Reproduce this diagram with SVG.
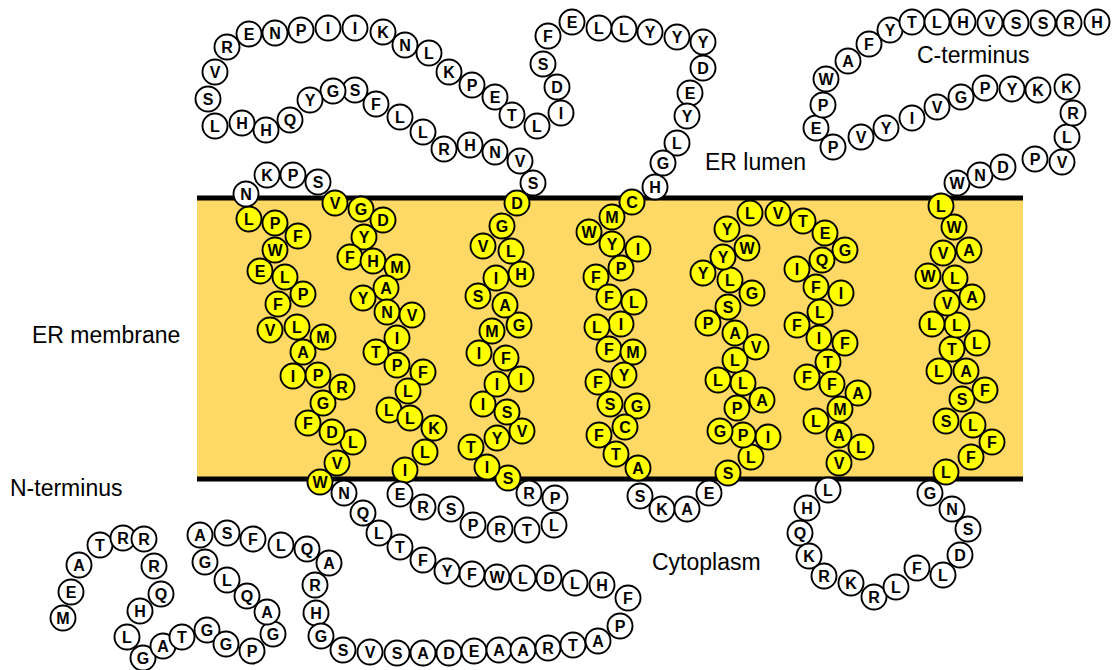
<svg xmlns="http://www.w3.org/2000/svg" width="1113" height="670" viewBox="0 0 1113 670">
<style>
circle{stroke:#000;stroke-width:1.9}
.w circle{fill:#fff}
.y circle{fill:#ffff00}
g.w text,g.y text{font-family:"Liberation Sans",Arial,sans-serif;font-weight:bold;font-size:16px;text-anchor:middle;fill:#000}
.lbl{font-family:"Liberation Sans",Arial,sans-serif;font-size:23px;fill:#000}
</style>
<rect width="1113" height="670" fill="#fff"/>
<g id="membrane">
<rect x="197" y="198" width="826" height="281" fill="#FFD966"/>
<line x1="197" y1="198" x2="1023" y2="198" stroke="#000" stroke-width="5"/>
<line x1="197" y1="479" x2="1023" y2="479" stroke="#000" stroke-width="5"/>
</g>
<g id="labels">
<text class="lbl" x="705" y="170">ER lumen</text>
<text class="lbl" x="32" y="343">ER membrane</text>
<text class="lbl" x="10" y="496">N-terminus</text>
<text class="lbl" x="652" y="570">Cytoplasm</text>
<text class="lbl" x="917" y="63">C-terminus</text>
</g>
<g id="connectors"/>
<g id="residues">
<g id="r1" class="w" transform="translate(63,618)"><circle r="12.5"/><text y="5.8">M</text></g>
<g id="r2" class="w" transform="translate(71,592)"><circle r="12.5"/><text y="5.8">E</text></g>
<g id="r3" class="w" transform="translate(79,565)"><circle r="12.5"/><text y="5.8">A</text></g>
<g id="r4" class="w" transform="translate(100,545)"><circle r="12.5"/><text y="5.8">T</text></g>
<g id="r5" class="w" transform="translate(123,538)"><circle r="12.5"/><text y="5.8">R</text></g>
<g id="r6" class="w" transform="translate(144,539)"><circle r="12.5"/><text y="5.8">R</text></g>
<g id="r7" class="w" transform="translate(154,566)"><circle r="12.5"/><text y="5.8">R</text></g>
<g id="r8" class="w" transform="translate(161,594)"><circle r="12.5"/><text y="5.8">Q</text></g>
<g id="r9" class="w" transform="translate(140,611)"><circle r="12.5"/><text y="5.8">H</text></g>
<g id="r10" class="w" transform="translate(127,637)"><circle r="12.5"/><text y="5.8">L</text></g>
<g id="r11" class="w" transform="translate(143,658)"><circle r="12.5"/><text y="5.8">G</text></g>
<g id="r12" class="w" transform="translate(163,646)"><circle r="12.5"/><text y="5.8">A</text></g>
<g id="r13" class="w" transform="translate(182,637)"><circle r="12.5"/><text y="5.8">T</text></g>
<g id="r14" class="w" transform="translate(207,630)"><circle r="12.5"/><text y="5.8">G</text></g>
<g id="r15" class="w" transform="translate(226,644)"><circle r="12.5"/><text y="5.8">G</text></g>
<g id="r16" class="w" transform="translate(252,651)"><circle r="12.5"/><text y="5.8">P</text></g>
<g id="r17" class="w" transform="translate(273,634)"><circle r="12.5"/><text y="5.8">G</text></g>
<g id="r18" class="w" transform="translate(267,612)"><circle r="12.5"/><text y="5.8">A</text></g>
<g id="r19" class="w" transform="translate(247,596)"><circle r="12.5"/><text y="5.8">Q</text></g>
<g id="r20" class="w" transform="translate(227,580)"><circle r="12.5"/><text y="5.8">L</text></g>
<g id="r21" class="w" transform="translate(205,562)"><circle r="12.5"/><text y="5.8">G</text></g>
<g id="r22" class="w" transform="translate(200,535)"><circle r="12.5"/><text y="5.8">A</text></g>
<g id="r23" class="w" transform="translate(227,533)"><circle r="12.5"/><text y="5.8">S</text></g>
<g id="r24" class="w" transform="translate(253,539)"><circle r="12.5"/><text y="5.8">F</text></g>
<g id="r25" class="w" transform="translate(281,545)"><circle r="12.5"/><text y="5.8">L</text></g>
<g id="r26" class="w" transform="translate(307,549)"><circle r="12.5"/><text y="5.8">Q</text></g>
<g id="r27" class="w" transform="translate(329,563)"><circle r="12.5"/><text y="5.8">A</text></g>
<g id="r28" class="w" transform="translate(315,585)"><circle r="12.5"/><text y="5.8">R</text></g>
<g id="r29" class="w" transform="translate(316,613)"><circle r="12.5"/><text y="5.8">H</text></g>
<g id="r30" class="w" transform="translate(321,636)"><circle r="12.5"/><text y="5.8">G</text></g>
<g id="r31" class="w" transform="translate(343,650)"><circle r="12.5"/><text y="5.8">S</text></g>
<g id="r32" class="w" transform="translate(370,652)"><circle r="12.5"/><text y="5.8">V</text></g>
<g id="r33" class="w" transform="translate(397,653)"><circle r="12.5"/><text y="5.8">S</text></g>
<g id="r34" class="w" transform="translate(423,653)"><circle r="12.5"/><text y="5.8">A</text></g>
<g id="r35" class="w" transform="translate(449,653)"><circle r="12.5"/><text y="5.8">D</text></g>
<g id="r36" class="w" transform="translate(474,651)"><circle r="12.5"/><text y="5.8">E</text></g>
<g id="r37" class="w" transform="translate(499,650)"><circle r="12.5"/><text y="5.8">A</text></g>
<g id="r38" class="w" transform="translate(523,650)"><circle r="12.5"/><text y="5.8">A</text></g>
<g id="r39" class="w" transform="translate(548,648)"><circle r="12.5"/><text y="5.8">R</text></g>
<g id="r40" class="w" transform="translate(573,645)"><circle r="12.5"/><text y="5.8">T</text></g>
<g id="r41" class="w" transform="translate(598,641)"><circle r="12.5"/><text y="5.8">A</text></g>
<g id="r42" class="w" transform="translate(620,626)"><circle r="12.5"/><text y="5.8">P</text></g>
<g id="r43" class="w" transform="translate(628,598)"><circle r="12.5"/><text y="5.8">F</text></g>
<g id="r44" class="w" transform="translate(602,585)"><circle r="12.5"/><text y="5.8">H</text></g>
<g id="r45" class="w" transform="translate(575,583)"><circle r="12.5"/><text y="5.8">L</text></g>
<g id="r46" class="w" transform="translate(549,578)"><circle r="12.5"/><text y="5.8">D</text></g>
<g id="r47" class="w" transform="translate(523,578)"><circle r="12.5"/><text y="5.8">L</text></g>
<g id="r48" class="w" transform="translate(497,577)"><circle r="12.5"/><text y="5.8">W</text></g>
<g id="r49" class="w" transform="translate(472,574)"><circle r="12.5"/><text y="5.8">F</text></g>
<g id="r50" class="w" transform="translate(447,571)"><circle r="12.5"/><text y="5.8">Y</text></g>
<g id="r51" class="w" transform="translate(423,560)"><circle r="12.5"/><text y="5.8">F</text></g>
<g id="r52" class="w" transform="translate(400,547)"><circle r="12.5"/><text y="5.8">T</text></g>
<g id="r53" class="w" transform="translate(379,533)"><circle r="12.5"/><text y="5.8">L</text></g>
<g id="r54" class="w" transform="translate(363,513)"><circle r="12.5"/><text y="5.8">Q</text></g>
<g id="r55" class="w" transform="translate(344,493)"><circle r="12.5"/><text y="5.8">N</text></g>
<g id="r56" class="y" transform="translate(320,482)"><circle r="12.5"/><text y="5.8">W</text></g>
<g id="r57" class="y" transform="translate(337,463)"><circle r="12.5"/><text y="5.8">V</text></g>
<g id="r58" class="y" transform="translate(353,442)"><circle r="12.5"/><text y="5.8">L</text></g>
<g id="r59" class="y" transform="translate(332,432)"><circle r="12.5"/><text y="5.8">D</text></g>
<g id="r60" class="y" transform="translate(308,423)"><circle r="12.5"/><text y="5.8">F</text></g>
<g id="r61" class="y" transform="translate(323,403)"><circle r="12.5"/><text y="5.8">G</text></g>
<g id="r62" class="y" transform="translate(342,387)"><circle r="12.5"/><text y="5.8">R</text></g>
<g id="r63" class="y" transform="translate(318,375)"><circle r="12.5"/><text y="5.8">P</text></g>
<g id="r64" class="y" transform="translate(293,376)"><circle r="12.5"/><text y="5.8">I</text></g>
<g id="r65" class="y" transform="translate(303,352)"><circle r="12.5"/><text y="5.8">A</text></g>
<g id="r66" class="y" transform="translate(323,337)"><circle r="12.5"/><text y="5.8">M</text></g>
<g id="r67" class="y" transform="translate(297,327)"><circle r="12.5"/><text y="5.8">L</text></g>
<g id="r68" class="y" transform="translate(270,330)"><circle r="12.5"/><text y="5.8">V</text></g>
<g id="r69" class="y" transform="translate(278,304)"><circle r="12.5"/><text y="5.8">F</text></g>
<g id="r70" class="y" transform="translate(303,294)"><circle r="12.5"/><text y="5.8">P</text></g>
<g id="r71" class="y" transform="translate(285,277)"><circle r="12.5"/><text y="5.8">L</text></g>
<g id="r72" class="y" transform="translate(260,271)"><circle r="12.5"/><text y="5.8">E</text></g>
<g id="r73" class="y" transform="translate(275,250)"><circle r="12.5"/><text y="5.8">W</text></g>
<g id="r74" class="y" transform="translate(298,236)"><circle r="12.5"/><text y="5.8">F</text></g>
<g id="r75" class="y" transform="translate(275,223)"><circle r="12.5"/><text y="5.8">P</text></g>
<g id="r76" class="y" transform="translate(249,219)"><circle r="12.5"/><text y="5.8">L</text></g>
<g id="r77" class="w" transform="translate(246,194)"><circle r="12.5"/><text y="5.8">N</text></g>
<g id="r78" class="w" transform="translate(267,175)"><circle r="12.5"/><text y="5.8">K</text></g>
<g id="r79" class="w" transform="translate(293,175)"><circle r="12.5"/><text y="5.8">P</text></g>
<g id="r80" class="w" transform="translate(318,182)"><circle r="12.5"/><text y="5.8">S</text></g>
<g id="r81" class="y" transform="translate(335,203)"><circle r="12.5"/><text y="5.8">V</text></g>
<g id="r82" class="y" transform="translate(361,209)"><circle r="12.5"/><text y="5.8">G</text></g>
<g id="r83" class="y" transform="translate(383,220)"><circle r="12.5"/><text y="5.8">D</text></g>
<g id="r84" class="y" transform="translate(364,237)"><circle r="12.5"/><text y="5.8">Y</text></g>
<g id="r85" class="y" transform="translate(350,257)"><circle r="12.5"/><text y="5.8">F</text></g>
<g id="r86" class="y" transform="translate(373,261)"><circle r="12.5"/><text y="5.8">H</text></g>
<g id="r87" class="y" transform="translate(397,267)"><circle r="12.5"/><text y="5.8">M</text></g>
<g id="r88" class="y" transform="translate(386,288)"><circle r="12.5"/><text y="5.8">A</text></g>
<g id="r89" class="y" transform="translate(363,298)"><circle r="12.5"/><text y="5.8">Y</text></g>
<g id="r90" class="y" transform="translate(387,312)"><circle r="12.5"/><text y="5.8">N</text></g>
<g id="r91" class="y" transform="translate(412,315)"><circle r="12.5"/><text y="5.8">V</text></g>
<g id="r92" class="y" transform="translate(397,338)"><circle r="12.5"/><text y="5.8">I</text></g>
<g id="r93" class="y" transform="translate(376,352)"><circle r="12.5"/><text y="5.8">T</text></g>
<g id="r94" class="y" transform="translate(397,365)"><circle r="12.5"/><text y="5.8">P</text></g>
<g id="r95" class="y" transform="translate(423,372)"><circle r="12.5"/><text y="5.8">F</text></g>
<g id="r96" class="y" transform="translate(408,391)"><circle r="12.5"/><text y="5.8">L</text></g>
<g id="r97" class="y" transform="translate(389,410)"><circle r="12.5"/><text y="5.8">L</text></g>
<g id="r98" class="y" transform="translate(410,418)"><circle r="12.5"/><text y="5.8">L</text></g>
<g id="r99" class="y" transform="translate(434,428)"><circle r="12.5"/><text y="5.8">K</text></g>
<g id="r100" class="y" transform="translate(425,452)"><circle r="12.5"/><text y="5.8">L</text></g>
<g id="r101" class="y" transform="translate(405,470)"><circle r="12.5"/><text y="5.8">I</text></g>
<g id="r102" class="w" transform="translate(400,494)"><circle r="12.5"/><text y="5.8">E</text></g>
<g id="r103" class="w" transform="translate(423,507)"><circle r="12.5"/><text y="5.8">R</text></g>
<g id="r104" class="w" transform="translate(451,509)"><circle r="12.5"/><text y="5.8">S</text></g>
<g id="r105" class="w" transform="translate(473,525)"><circle r="12.5"/><text y="5.8">P</text></g>
<g id="r106" class="w" transform="translate(500,529)"><circle r="12.5"/><text y="5.8">R</text></g>
<g id="r107" class="w" transform="translate(527,530)"><circle r="12.5"/><text y="5.8">T</text></g>
<g id="r108" class="w" transform="translate(554,525)"><circle r="12.5"/><text y="5.8">L</text></g>
<g id="r109" class="w" transform="translate(555,498)"><circle r="12.5"/><text y="5.8">P</text></g>
<g id="r110" class="w" transform="translate(529,493)"><circle r="12.5"/><text y="5.8">R</text></g>
<g id="r111" class="y" transform="translate(508,478)"><circle r="12.5"/><text y="5.8">S</text></g>
<g id="r112" class="y" transform="translate(487,467)"><circle r="12.5"/><text y="5.8">I</text></g>
<g id="r113" class="y" transform="translate(471,447)"><circle r="12.5"/><text y="5.8">T</text></g>
<g id="r114" class="y" transform="translate(497,438)"><circle r="12.5"/><text y="5.8">Y</text></g>
<g id="r115" class="y" transform="translate(522,431)"><circle r="12.5"/><text y="5.8">V</text></g>
<g id="r116" class="y" transform="translate(507,412)"><circle r="12.5"/><text y="5.8">S</text></g>
<g id="r117" class="y" transform="translate(483,404)"><circle r="12.5"/><text y="5.8">I</text></g>
<g id="r118" class="y" transform="translate(497,384)"><circle r="12.5"/><text y="5.8">I</text></g>
<g id="r119" class="y" transform="translate(521,379)"><circle r="12.5"/><text y="5.8">I</text></g>
<g id="r120" class="y" transform="translate(506,358)"><circle r="12.5"/><text y="5.8">F</text></g>
<g id="r121" class="y" transform="translate(479,353)"><circle r="12.5"/><text y="5.8">I</text></g>
<g id="r122" class="y" transform="translate(492,331)"><circle r="12.5"/><text y="5.8">M</text></g>
<g id="r123" class="y" transform="translate(519,325)"><circle r="12.5"/><text y="5.8">G</text></g>
<g id="r124" class="y" transform="translate(505,305)"><circle r="12.5"/><text y="5.8">A</text></g>
<g id="r125" class="y" transform="translate(478,296)"><circle r="12.5"/><text y="5.8">S</text></g>
<g id="r126" class="y" transform="translate(521,274)"><circle r="12.5"/><text y="5.8">H</text></g>
<g id="r127" class="y" transform="translate(496,278)"><circle r="12.5"/><text y="5.8">I</text></g>
<g id="r128" class="y" transform="translate(511,251)"><circle r="12.5"/><text y="5.8">L</text></g>
<g id="r129" class="y" transform="translate(483,246)"><circle r="12.5"/><text y="5.8">V</text></g>
<g id="r130" class="y" transform="translate(502,226)"><circle r="12.5"/><text y="5.8">G</text></g>
<g id="r131" class="y" transform="translate(517,203)"><circle r="12.5"/><text y="5.8">D</text></g>
<g id="r132" class="w" transform="translate(533,183)"><circle r="12.5"/><text y="5.8">S</text></g>
<g id="r133" class="w" transform="translate(520,161)"><circle r="12.5"/><text y="5.8">V</text></g>
<g id="r134" class="w" transform="translate(495,152)"><circle r="12.5"/><text y="5.8">N</text></g>
<g id="r135" class="w" transform="translate(470,145)"><circle r="12.5"/><text y="5.8">H</text></g>
<g id="r136" class="w" transform="translate(444,149)"><circle r="12.5"/><text y="5.8">R</text></g>
<g id="r137" class="w" transform="translate(423,132)"><circle r="12.5"/><text y="5.8">L</text></g>
<g id="r138" class="w" transform="translate(400,117)"><circle r="12.5"/><text y="5.8">L</text></g>
<g id="r139" class="w" transform="translate(376,104)"><circle r="12.5"/><text y="5.8">F</text></g>
<g id="r140" class="w" transform="translate(355,90)"><circle r="12.5"/><text y="5.8">S</text></g>
<g id="r141" class="w" transform="translate(333,91)"><circle r="12.5"/><text y="5.8">G</text></g>
<g id="r142" class="w" transform="translate(310,100)"><circle r="12.5"/><text y="5.8">Y</text></g>
<g id="r143" class="w" transform="translate(290,120)"><circle r="12.5"/><text y="5.8">Q</text></g>
<g id="r144" class="w" transform="translate(266,130)"><circle r="12.5"/><text y="5.8">H</text></g>
<g id="r145" class="w" transform="translate(242,123)"><circle r="12.5"/><text y="5.8">H</text></g>
<g id="r146" class="w" transform="translate(215,126)"><circle r="12.5"/><text y="5.8">L</text></g>
<g id="r147" class="w" transform="translate(208,99)"><circle r="12.5"/><text y="5.8">S</text></g>
<g id="r148" class="w" transform="translate(215,72)"><circle r="12.5"/><text y="5.8">V</text></g>
<g id="r149" class="w" transform="translate(227,47)"><circle r="12.5"/><text y="5.8">R</text></g>
<g id="r150" class="w" transform="translate(249,34)"><circle r="12.5"/><text y="5.8">E</text></g>
<g id="r151" class="w" transform="translate(275,33)"><circle r="12.5"/><text y="5.8">N</text></g>
<g id="r152" class="w" transform="translate(301,30)"><circle r="12.5"/><text y="5.8">P</text></g>
<g id="r153" class="w" transform="translate(328,28)"><circle r="12.5"/><text y="5.8">I</text></g>
<g id="r154" class="w" transform="translate(355,28)"><circle r="12.5"/><text y="5.8">I</text></g>
<g id="r155" class="w" transform="translate(383,32)"><circle r="12.5"/><text y="5.8">K</text></g>
<g id="r156" class="w" transform="translate(405,45)"><circle r="12.5"/><text y="5.8">N</text></g>
<g id="r157" class="w" transform="translate(429,53)"><circle r="12.5"/><text y="5.8">L</text></g>
<g id="r158" class="w" transform="translate(449,72)"><circle r="12.5"/><text y="5.8">K</text></g>
<g id="r159" class="w" transform="translate(472,85)"><circle r="12.5"/><text y="5.8">P</text></g>
<g id="r160" class="w" transform="translate(495,97)"><circle r="12.5"/><text y="5.8">E</text></g>
<g id="r161" class="w" transform="translate(512,115)"><circle r="12.5"/><text y="5.8">T</text></g>
<g id="r162" class="w" transform="translate(537,126)"><circle r="12.5"/><text y="5.8">L</text></g>
<g id="r163" class="w" transform="translate(561,113)"><circle r="12.5"/><text y="5.8">I</text></g>
<g id="r164" class="w" transform="translate(557,87)"><circle r="12.5"/><text y="5.8">D</text></g>
<g id="r165" class="w" transform="translate(543,64)"><circle r="12.5"/><text y="5.8">S</text></g>
<g id="r166" class="w" transform="translate(548,36)"><circle r="12.5"/><text y="5.8">F</text></g>
<g id="r167" class="w" transform="translate(572,22)"><circle r="12.5"/><text y="5.8">E</text></g>
<g id="r168" class="w" transform="translate(599,28)"><circle r="12.5"/><text y="5.8">L</text></g>
<g id="r169" class="w" transform="translate(624,29)"><circle r="12.5"/><text y="5.8">L</text></g>
<g id="r170" class="w" transform="translate(650,32)"><circle r="12.5"/><text y="5.8">Y</text></g>
<g id="r171" class="w" transform="translate(677,37)"><circle r="12.5"/><text y="5.8">Y</text></g>
<g id="r172" class="w" transform="translate(703,42)"><circle r="12.5"/><text y="5.8">Y</text></g>
<g id="r173" class="w" transform="translate(703,68)"><circle r="12.5"/><text y="5.8">D</text></g>
<g id="r174" class="w" transform="translate(690,93)"><circle r="12.5"/><text y="5.8">E</text></g>
<g id="r175" class="w" transform="translate(687,116)"><circle r="12.5"/><text y="5.8">Y</text></g>
<g id="r176" class="w" transform="translate(677,143)"><circle r="12.5"/><text y="5.8">L</text></g>
<g id="r177" class="w" transform="translate(663,163)"><circle r="12.5"/><text y="5.8">G</text></g>
<g id="r178" class="w" transform="translate(655,187)"><circle r="12.5"/><text y="5.8">H</text></g>
<g id="r179" class="y" transform="translate(632,202)"><circle r="12.5"/><text y="5.8">C</text></g>
<g id="r180" class="y" transform="translate(612,217)"><circle r="12.5"/><text y="5.8">M</text></g>
<g id="r181" class="y" transform="translate(589,232)"><circle r="12.5"/><text y="5.8">W</text></g>
<g id="r182" class="y" transform="translate(612,244)"><circle r="12.5"/><text y="5.8">Y</text></g>
<g id="r183" class="y" transform="translate(638,249)"><circle r="12.5"/><text y="5.8">I</text></g>
<g id="r184" class="y" transform="translate(621,268)"><circle r="12.5"/><text y="5.8">P</text></g>
<g id="r185" class="y" transform="translate(596,277)"><circle r="12.5"/><text y="5.8">F</text></g>
<g id="r186" class="y" transform="translate(609,297)"><circle r="12.5"/><text y="5.8">F</text></g>
<g id="r187" class="y" transform="translate(634,302)"><circle r="12.5"/><text y="5.8">L</text></g>
<g id="r188" class="y" transform="translate(621,324)"><circle r="12.5"/><text y="5.8">I</text></g>
<g id="r189" class="y" transform="translate(597,327)"><circle r="12.5"/><text y="5.8">L</text></g>
<g id="r190" class="y" transform="translate(609,349)"><circle r="12.5"/><text y="5.8">F</text></g>
<g id="r191" class="y" transform="translate(633,352)"><circle r="12.5"/><text y="5.8">M</text></g>
<g id="r192" class="y" transform="translate(624,375)"><circle r="12.5"/><text y="5.8">Y</text></g>
<g id="r193" class="y" transform="translate(598,382)"><circle r="12.5"/><text y="5.8">F</text></g>
<g id="r194" class="y" transform="translate(610,404)"><circle r="12.5"/><text y="5.8">S</text></g>
<g id="r195" class="y" transform="translate(637,406)"><circle r="12.5"/><text y="5.8">G</text></g>
<g id="r196" class="y" transform="translate(625,427)"><circle r="12.5"/><text y="5.8">C</text></g>
<g id="r197" class="y" transform="translate(599,435)"><circle r="12.5"/><text y="5.8">F</text></g>
<g id="r198" class="y" transform="translate(616,454)"><circle r="12.5"/><text y="5.8">T</text></g>
<g id="r199" class="y" transform="translate(638,468)"><circle r="12.5"/><text y="5.8">A</text></g>
<g id="r200" class="w" transform="translate(640,496)"><circle r="12.5"/><text y="5.8">S</text></g>
<g id="r201" class="w" transform="translate(662,509)"><circle r="12.5"/><text y="5.8">K</text></g>
<g id="r202" class="w" transform="translate(687,509)"><circle r="12.5"/><text y="5.8">A</text></g>
<g id="r203" class="w" transform="translate(709,493)"><circle r="12.5"/><text y="5.8">E</text></g>
<g id="r204" class="y" transform="translate(728,473)"><circle r="12.5"/><text y="5.8">S</text></g>
<g id="r205" class="y" transform="translate(751,457)"><circle r="12.5"/><text y="5.8">L</text></g>
<g id="r206" class="y" transform="translate(768,437)"><circle r="12.5"/><text y="5.8">I</text></g>
<g id="r207" class="y" transform="translate(743,435)"><circle r="12.5"/><text y="5.8">P</text></g>
<g id="r208" class="y" transform="translate(720,431)"><circle r="12.5"/><text y="5.8">G</text></g>
<g id="r209" class="y" transform="translate(737,408)"><circle r="12.5"/><text y="5.8">P</text></g>
<g id="r210" class="y" transform="translate(762,400)"><circle r="12.5"/><text y="5.8">A</text></g>
<g id="r211" class="y" transform="translate(743,383)"><circle r="12.5"/><text y="5.8">L</text></g>
<g id="r212" class="y" transform="translate(718,380)"><circle r="12.5"/><text y="5.8">L</text></g>
<g id="r213" class="y" transform="translate(735,360)"><circle r="12.5"/><text y="5.8">L</text></g>
<g id="r214" class="y" transform="translate(756,347)"><circle r="12.5"/><text y="5.8">V</text></g>
<g id="r215" class="y" transform="translate(735,333)"><circle r="12.5"/><text y="5.8">A</text></g>
<g id="r216" class="y" transform="translate(708,323)"><circle r="12.5"/><text y="5.8">P</text></g>
<g id="r217" class="y" transform="translate(728,307)"><circle r="12.5"/><text y="5.8">S</text></g>
<g id="r218" class="y" transform="translate(752,293)"><circle r="12.5"/><text y="5.8">G</text></g>
<g id="r219" class="y" transform="translate(730,280)"><circle r="12.5"/><text y="5.8">L</text></g>
<g id="r220" class="y" transform="translate(703,273)"><circle r="12.5"/><text y="5.8">Y</text></g>
<g id="r221" class="y" transform="translate(723,257)"><circle r="12.5"/><text y="5.8">Y</text></g>
<g id="r222" class="y" transform="translate(747,248)"><circle r="12.5"/><text y="5.8">W</text></g>
<g id="r223" class="y" transform="translate(727,229)"><circle r="12.5"/><text y="5.8">Y</text></g>
<g id="r224" class="y" transform="translate(750,213)"><circle r="12.5"/><text y="5.8">L</text></g>
<g id="r225" class="y" transform="translate(778,213)"><circle r="12.5"/><text y="5.8">V</text></g>
<g id="r226" class="y" transform="translate(803,221)"><circle r="12.5"/><text y="5.8">T</text></g>
<g id="r227" class="y" transform="translate(825,233)"><circle r="12.5"/><text y="5.8">E</text></g>
<g id="r228" class="y" transform="translate(845,250)"><circle r="12.5"/><text y="5.8">G</text></g>
<g id="r229" class="y" transform="translate(822,260)"><circle r="12.5"/><text y="5.8">Q</text></g>
<g id="r230" class="y" transform="translate(797,269)"><circle r="12.5"/><text y="5.8">I</text></g>
<g id="r231" class="y" transform="translate(816,287)"><circle r="12.5"/><text y="5.8">F</text></g>
<g id="r232" class="y" transform="translate(841,293)"><circle r="12.5"/><text y="5.8">I</text></g>
<g id="r233" class="y" transform="translate(820,312)"><circle r="12.5"/><text y="5.8">L</text></g>
<g id="r234" class="y" transform="translate(797,325)"><circle r="12.5"/><text y="5.8">F</text></g>
<g id="r235" class="y" transform="translate(819,338)"><circle r="12.5"/><text y="5.8">I</text></g>
<g id="r236" class="y" transform="translate(845,343)"><circle r="12.5"/><text y="5.8">F</text></g>
<g id="r237" class="y" transform="translate(828,362)"><circle r="12.5"/><text y="5.8">T</text></g>
<g id="r238" class="y" transform="translate(807,377)"><circle r="12.5"/><text y="5.8">F</text></g>
<g id="r239" class="y" transform="translate(832,384)"><circle r="12.5"/><text y="5.8">F</text></g>
<g id="r240" class="y" transform="translate(858,393)"><circle r="12.5"/><text y="5.8">A</text></g>
<g id="r241" class="y" transform="translate(840,409)"><circle r="12.5"/><text y="5.8">M</text></g>
<g id="r242" class="y" transform="translate(816,421)"><circle r="12.5"/><text y="5.8">L</text></g>
<g id="r243" class="y" transform="translate(839,435)"><circle r="12.5"/><text y="5.8">A</text></g>
<g id="r244" class="y" transform="translate(861,447)"><circle r="12.5"/><text y="5.8">L</text></g>
<g id="r245" class="y" transform="translate(839,463)"><circle r="12.5"/><text y="5.8">V</text></g>
<g id="r246" class="w" transform="translate(828,490)"><circle r="12.5"/><text y="5.8">L</text></g>
<g id="r247" class="w" transform="translate(807,508)"><circle r="12.5"/><text y="5.8">H</text></g>
<g id="r248" class="w" transform="translate(800,533)"><circle r="12.5"/><text y="5.8">Q</text></g>
<g id="r249" class="w" transform="translate(809,556)"><circle r="12.5"/><text y="5.8">K</text></g>
<g id="r250" class="w" transform="translate(824,576)"><circle r="12.5"/><text y="5.8">R</text></g>
<g id="r251" class="w" transform="translate(851,583)"><circle r="12.5"/><text y="5.8">K</text></g>
<g id="r252" class="w" transform="translate(874,597)"><circle r="12.5"/><text y="5.8">R</text></g>
<g id="r253" class="w" transform="translate(896,587)"><circle r="12.5"/><text y="5.8">L</text></g>
<g id="r254" class="w" transform="translate(917,568)"><circle r="12.5"/><text y="5.8">F</text></g>
<g id="r255" class="w" transform="translate(943,575)"><circle r="12.5"/><text y="5.8">L</text></g>
<g id="r256" class="w" transform="translate(960,555)"><circle r="12.5"/><text y="5.8">D</text></g>
<g id="r257" class="w" transform="translate(968,529)"><circle r="12.5"/><text y="5.8">S</text></g>
<g id="r258" class="w" transform="translate(952,509)"><circle r="12.5"/><text y="5.8">N</text></g>
<g id="r259" class="w" transform="translate(930,493)"><circle r="12.5"/><text y="5.8">G</text></g>
<g id="r260" class="y" transform="translate(946,472)"><circle r="12.5"/><text y="5.8">L</text></g>
<g id="r261" class="y" transform="translate(971,457)"><circle r="12.5"/><text y="5.8">F</text></g>
<g id="r262" class="y" transform="translate(992,442)"><circle r="12.5"/><text y="5.8">F</text></g>
<g id="r263" class="y" transform="translate(973,425)"><circle r="12.5"/><text y="5.8">L</text></g>
<g id="r264" class="y" transform="translate(946,421)"><circle r="12.5"/><text y="5.8">S</text></g>
<g id="r265" class="y" transform="translate(962,399)"><circle r="12.5"/><text y="5.8">S</text></g>
<g id="r266" class="y" transform="translate(985,390)"><circle r="12.5"/><text y="5.8">F</text></g>
<g id="r267" class="y" transform="translate(966,371)"><circle r="12.5"/><text y="5.8">A</text></g>
<g id="r268" class="y" transform="translate(939,371)"><circle r="12.5"/><text y="5.8">L</text></g>
<g id="r269" class="y" transform="translate(952,349)"><circle r="12.5"/><text y="5.8">T</text></g>
<g id="r270" class="y" transform="translate(977,343)"><circle r="12.5"/><text y="5.8">L</text></g>
<g id="r271" class="y" transform="translate(957,325)"><circle r="12.5"/><text y="5.8">L</text></g>
<g id="r272" class="y" transform="translate(932,324)"><circle r="12.5"/><text y="5.8">L</text></g>
<g id="r273" class="y" transform="translate(947,303)"><circle r="12.5"/><text y="5.8">V</text></g>
<g id="r274" class="y" transform="translate(972,297)"><circle r="12.5"/><text y="5.8">A</text></g>
<g id="r275" class="y" transform="translate(955,278)"><circle r="12.5"/><text y="5.8">L</text></g>
<g id="r276" class="y" transform="translate(928,276)"><circle r="12.5"/><text y="5.8">W</text></g>
<g id="r277" class="y" transform="translate(969,250)"><circle r="12.5"/><text y="5.8">A</text></g>
<g id="r278" class="y" transform="translate(943,253)"><circle r="12.5"/><text y="5.8">V</text></g>
<g id="r279" class="y" transform="translate(954,227)"><circle r="12.5"/><text y="5.8">W</text></g>
<g id="r280" class="y" transform="translate(941,206)"><circle r="12.5"/><text y="5.8">L</text></g>
<g id="r281" class="w" transform="translate(957,183)"><circle r="12.5"/><text y="5.8">W</text></g>
<g id="r282" class="w" transform="translate(980,175)"><circle r="12.5"/><text y="5.8">N</text></g>
<g id="r283" class="w" transform="translate(1003,167)"><circle r="12.5"/><text y="5.8">D</text></g>
<g id="r284" class="w" transform="translate(1035,159)"><circle r="12.5"/><text y="5.8">P</text></g>
<g id="r285" class="w" transform="translate(1062,162)"><circle r="12.5"/><text y="5.8">V</text></g>
<g id="r286" class="w" transform="translate(1067,137)"><circle r="12.5"/><text y="5.8">L</text></g>
<g id="r287" class="w" transform="translate(1073,113)"><circle r="12.5"/><text y="5.8">R</text></g>
<g id="r288" class="w" transform="translate(1067,87)"><circle r="12.5"/><text y="5.8">K</text></g>
<g id="r289" class="w" transform="translate(1038,90)"><circle r="12.5"/><text y="5.8">K</text></g>
<g id="r290" class="w" transform="translate(1012,89)"><circle r="12.5"/><text y="5.8">Y</text></g>
<g id="r291" class="w" transform="translate(985,88)"><circle r="12.5"/><text y="5.8">P</text></g>
<g id="r292" class="w" transform="translate(961,97)"><circle r="12.5"/><text y="5.8">G</text></g>
<g id="r293" class="w" transform="translate(937,107)"><circle r="12.5"/><text y="5.8">V</text></g>
<g id="r294" class="w" transform="translate(912,118)"><circle r="12.5"/><text y="5.8">I</text></g>
<g id="r295" class="w" transform="translate(886,128)"><circle r="12.5"/><text y="5.8">Y</text></g>
<g id="r296" class="w" transform="translate(861,137)"><circle r="12.5"/><text y="5.8">V</text></g>
<g id="r297" class="w" transform="translate(833,147)"><circle r="12.5"/><text y="5.8">P</text></g>
<g id="r298" class="w" transform="translate(816,128)"><circle r="12.5"/><text y="5.8">E</text></g>
<g id="r299" class="w" transform="translate(823,105)"><circle r="12.5"/><text y="5.8">P</text></g>
<g id="r300" class="w" transform="translate(826,79)"><circle r="12.5"/><text y="5.8">W</text></g>
<g id="r301" class="w" transform="translate(848,61)"><circle r="12.5"/><text y="5.8">A</text></g>
<g id="r302" class="w" transform="translate(869,44)"><circle r="12.5"/><text y="5.8">F</text></g>
<g id="r303" class="w" transform="translate(890,30)"><circle r="12.5"/><text y="5.8">Y</text></g>
<g id="r304" class="w" transform="translate(912,22)"><circle r="12.5"/><text y="5.8">T</text></g>
<g id="r305" class="w" transform="translate(937,22)"><circle r="12.5"/><text y="5.8">L</text></g>
<g id="r306" class="w" transform="translate(963,22)"><circle r="12.5"/><text y="5.8">H</text></g>
<g id="r307" class="w" transform="translate(990,23)"><circle r="12.5"/><text y="5.8">V</text></g>
<g id="r308" class="w" transform="translate(1016,23)"><circle r="12.5"/><text y="5.8">S</text></g>
<g id="r309" class="w" transform="translate(1043,23)"><circle r="12.5"/><text y="5.8">S</text></g>
<g id="r310" class="w" transform="translate(1069,23)"><circle r="12.5"/><text y="5.8">R</text></g>
<g id="r311" class="w" transform="translate(1097,22)"><circle r="12.5"/><text y="5.8">H</text></g>
</g>
</svg>
